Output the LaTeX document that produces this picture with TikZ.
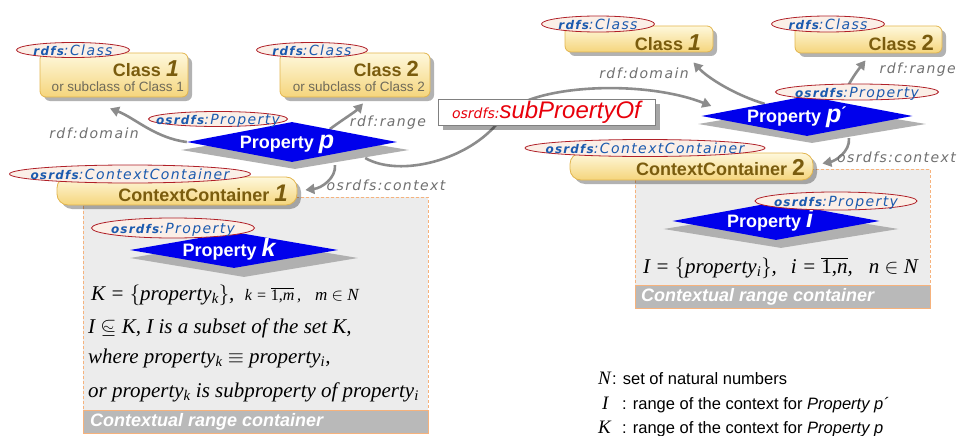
\documentclass[tikz,border=0pt]{standalone}
\usepackage{fontspec}
\setmainfont{Liberation Serif}
\newfontfamily\ars{Liberation Sans}
\newfontfamily\dvs{DejaVu Sans}
\newfontfamily\dvsl[LetterSpace=10]{DejaVu Sans}
\usetikzlibrary{arrows.meta,shapes.geometric,shadows,calc}
\pgfdeclarelayer{back}
\pgfsetlayers{back,main}
\definecolor{clstop}{HTML}{FEF8DC}
\definecolor{clsbot}{HTML}{F5D57C}
\definecolor{clsdraw}{HTML}{E2B54E}
\definecolor{clstxt}{HTML}{7A5C0E}
\definecolor{subgray}{HTML}{6E6A5A}
\definecolor{ellfill}{HTML}{FBEFE7}
\definecolor{elldraw}{HTML}{B02028}
\definecolor{lbltxt}{HTML}{1B5AAE}
\definecolor{reltxt}{HTML}{707070}
\definecolor{relline}{HTML}{8C8C8C}
\definecolor{pblue}{HTML}{0000EC}
\definecolor{dshadow}{HTML}{B0B0B0}
\definecolor{ctnfill}{HTML}{ECECEC}
\definecolor{ctndraw}{HTML}{F6B27C}
\definecolor{barfill}{HTML}{B9B9B9}
\definecolor{subred}{HTML}{E8000B}
\newcommand\fs[1]{\fontsize{#1}{#1}\selectfont}
\newcommand\ctr[1]{\smash{\raisebox{-0.36em}{\makebox[0pt]{#1}}}}
\newcommand\pre[1]{{\bfseries\fs{12}#1}}
\begin{document}
\begin{tikzpicture}[x=1pt,y=-1pt,
  clsbox/.style={draw=clsdraw, line width=0.8pt, rounded corners=6pt, top color=clstop, bottom color=clsbot, inner sep=0pt,
    drop shadow={shadow xshift=4pt, shadow yshift=-4pt, fill=black, opacity=0.3}},
  ctxbox/.style={clsbox, rounded corners=11pt},
  clsname/.style={font=\ars\bfseries\fs{18}, text=clstxt, inner sep=0pt},
  subtxt/.style={font=\ars\fs{13.5}, text=subgray, inner sep=0pt},
  lbl/.style={ellipse, draw=elldraw, line width=0.8pt, fill=ellfill, inner sep=0pt, font=\dvsl\itshape\fs{14}, text=lbltxt},
  reltx/.style={font=\dvsl\itshape\fs{14}, text=reltxt, inner sep=0pt},
  rel/.style={draw=relline, line width=2.6pt, -{Triangle[length=9pt,width=10pt]}},
  pdiam/.style={diamond, fill=pblue, inner sep=0pt, font=\ars\bfseries\fs{18}, text=white},
  sdiam/.style={diamond, fill=dshadow, inner sep=0pt},
  ctn/.style={draw=ctndraw, dash pattern=on 3pt off 2pt, line width=0.8pt, fill=ctnfill, inner sep=0pt},
  bar/.style={fill=barfill, draw=ctndraw, line width=0.8pt, inner sep=0pt},
  bartxt/.style={font=\ars\bfseries\itshape\fs{18}, text=white, inner sep=0pt},
  mth/.style={font=\fs{21}\itshape, inner sep=0pt},
  leg/.style={font=\ars\fs{16.5}, inner sep=0pt},
  subbox/.style={draw=gray, line width=0.8pt, fill=white, inner sep=0pt,
    drop shadow={shadow xshift=5pt, shadow yshift=-5pt, fill=black, opacity=0.35}},
]
\useasboundingbox (0,0) rectangle (958,436);

% containers
\node[ctn, minimum width=345pt, minimum height=236pt] (ctn1) at (255.5,315) {};
\node[bar, minimum width=345pt, minimum height=23pt] (bar1) at (255.5,421.5) {};
\node[bartxt, anchor=west] (bar1t) at (90,422) {Contextual range container};
\node[ctn, minimum width=295pt, minimum height=139pt] (ctn2) at (782.5,238.5) {};
\node[bar, minimum width=295pt, minimum height=23pt] (bar2) at (782.5,296.5) {};
\node[bartxt, anchor=west] (bar2t) at (641,297) {Contextual range container};

% class boxes, left
\node[clsbox, minimum width=148pt, minimum height=44pt] (c1L) at (114,75) {};
\node[clsname, anchor=east] (c1Lt) at (179,69) {Class {\itshape\fs{23}1}};
\node[subtxt, anchor=east] (c1Ls) at (184,87) {or subclass of Class 1};
\node[clsbox, minimum width=150pt, minimum height=44pt] (c2L) at (355,75) {};
\node[clsname, anchor=east] (c2Lt) at (419,69) {Class {\fs{22}2}};
\node[subtxt, anchor=east] (c2Ls) at (425,87) {or subclass of Class 2};
\node[ctxbox, minimum width=240pt, minimum height=28pt] (cc1) at (177,191) {};
\node[clsname, anchor=east] (cc1t) at (288,193) {ContextContainer {\itshape\fs{24}1}};

% class boxes, right
\node[clsbox, minimum width=148pt, minimum height=26pt] (c1R) at (639,39) {};
\node[clsname, anchor=east] (c1Rt) at (701,43) {Class {\itshape\fs{23}1}};
\node[clsbox, minimum width=147pt, minimum height=27pt] (c2R) at (868.5,39.5) {};
\node[clsname, anchor=east] (c2Rt) at (934,43) {Class {\fs{22}2}};
\node[ctxbox, minimum width=243pt, minimum height=27pt] (cc2) at (691.5,166.5) {};
\node[clsname, anchor=east] (cc2t) at (805,168) {ContextContainer {\fs{23}2}};

% diamonds
\node[sdiam, minimum width=228pt, minimum height=38pt] (ppS) at (295,150) {};
\node[pdiam, minimum width=210pt, minimum height=40pt] (pp) at (292,142) {\ctr{\hspace{-10pt}Property {\itshape\fs{25}p}}};
\node[sdiam, minimum width=228pt, minimum height=38pt] (pkS) at (244,258) {};
\node[pdiam, minimum width=208pt, minimum height=36pt] (pk) at (234,250) {\ctr{\hspace{-10pt}Property {\itshape\fs{25}k}}};
\node[sdiam, minimum width=228pt, minimum height=38pt] (pp2S) at (812,124) {};
\node[pdiam, minimum width=211pt, minimum height=40pt] (pp2) at (807,116) {\ctr{\hspace{-20pt}Property {\itshape\fs{25}p}\raisebox{4pt}{\fs{16}´}}};
\node[sdiam, minimum width=235pt, minimum height=38pt] (piS) at (781,229) {};
\node[pdiam, minimum width=207pt, minimum height=38pt] (pi) at (776,221) {\ctr{\hspace{-12pt}Property {\itshape\fs{25}i}}};

% type ellipses
\node[lbl, minimum width=113pt, minimum height=15pt] (e1) at (73,50) {\ctr{\pre{rdfs}:Class}};
\node[lbl, minimum width=111pt, minimum height=15pt] (e2) at (312,50) {\ctr{\pre{rdfs}:Class}};
\node[lbl, minimum width=139pt, minimum height=15pt] (e3) at (218,119) {\ctr{\pre{osrdfs}:Property}};
\node[lbl, minimum width=241pt, minimum height=18pt] (e4) at (130,174) {\ctr{\pre{osrdfs}:ContextContainer}};
\node[lbl, minimum width=163pt, minimum height=20pt] (e5) at (173,228) {\ctr{\pre{osrdfs}:Property}};
\node[lbl, minimum width=113pt, minimum height=16pt] (e6) at (598,24) {\ctr{\pre{rdfs}:Class}};
\node[lbl, minimum width=113pt, minimum height=16pt] (e7) at (828,24) {\ctr{\pre{rdfs}:Class}};
\node[lbl, minimum width=163pt, minimum height=16pt] (e8) at (857,92) {\ctr{\pre{osrdfs}:Property}};
\node[lbl, minimum width=240pt, minimum height=17pt] (e9) at (645,148) {\ctr{\pre{osrdfs}:ContextContainer}};
\node[lbl, minimum width=162pt, minimum height=18pt] (e10) at (836,201) {\ctr{\pre{osrdfs}:Property}};

% relation labels
\node[reltx] (l1) at (94,133) {rdf:domain};
\node[reltx] (l2) at (388,123) {rdf:range};
\node[reltx] (l3) at (386,185) {osrdfs:context};
\node[reltx] (l4) at (644,73) {rdf:domain};
\node[reltx, anchor=east] (l5) at (956,70) {rdf:range};
\node[reltx, anchor=east] (l6) at (956,157) {osrdfs:context};

% subPropertyOf box
\node[subbox, minimum width=217pt, minimum height=26pt] (sub) at (546.5,112)
  {\textcolor{subred}{{\dvs\itshape\fs{14}osrdfs:}{\ars\itshape\fs{24}subProertyOf}}};

% math
\node[mth, anchor=base west] (m1) at (91,300) {K = $\bigl\{$property\textsubscript{k}$\bigr\}$,\enspace{\fs{16}k = $\overline{\hbox{\upshape 1,\itshape m}}$\,,}\hspace{14pt}{\fs{17}m $\in$ N}};
\node[mth, anchor=base west] (m2) at (88,333) {I $\stackrel{\sim}{\smash{\subseteq}}$ K, I is a subset of the set K,};
\node[mth, anchor=base west] (m3) at (88,363) {where property\textsubscript{k} $\equiv$ property\textsubscript{i},};
\node[mth, anchor=base west] (m4) at (88,397) {or property\textsubscript{k} is subproperty of property\textsubscript{i}};
\node[mth, anchor=base west] (m5) at (643,273) {I = $\bigl\{$property\textsubscript{i}$\bigr\}$,\hspace{14pt}i = $\overline{\hbox{\upshape 1,\itshape n}}$,\hspace{16pt}n $\in$ N};

% legend
\node[leg, anchor=base west] (g1) at (598,384) {\makebox[14pt][l]{\rmfamily\itshape\fs{19}N}: set of natural numbers};
\node[leg, anchor=base west] (g2) at (598,409) {\makebox[24pt][l]{\hspace{4pt}\rmfamily\itshape\fs{19}I}: range of the context for \textit{Property p´}};
\node[leg, anchor=base west] (g3) at (598,433) {\makebox[24pt][l]{\rmfamily\itshape\fs{19}K}: range of the context for \textit{Property p}};

% connectors
\begin{pgfonlayer}{back}
\draw[rel] (pp.west) .. controls (155,138) and (135,118) .. ($(c1L.south)+(-4,11)$);
\draw[rel] ($(pp.north)!0.36!(pp.east)$) .. controls (345,118) and (355,112) .. ($(c2L.south)+(8,6)$);
\draw[rel] ($(pp.south)+(43,3)$) .. controls (336,178) and (322,188) .. ($(cc1.east)+(8,-1)$);
\draw[rel] ($(pp.east)+(-32,16)$) .. controls (400,178) and (470,160) .. (500,120)
  .. controls (520,85) and (640,78) .. ($(pp2.west)+(10,-10)$);
\draw[rel] ($(pp2.west)!0.6!(pp2.north)$) .. controls (735,95) and (708,78) .. ($(c1R.south east)+(-20,10)$);
\draw[rel] ($(pp2.north)+(40,-8)$) .. controls (852,78) and (858,70) .. ($(c2R.south)+(-3,7)$);
\draw[rel] ($(pp2.south)+(42,2)$) .. controls (850,152) and (835,161) .. ($(cc2.east)+(9,-3)$);
\end{pgfonlayer}
\end{tikzpicture}
\end{document}
